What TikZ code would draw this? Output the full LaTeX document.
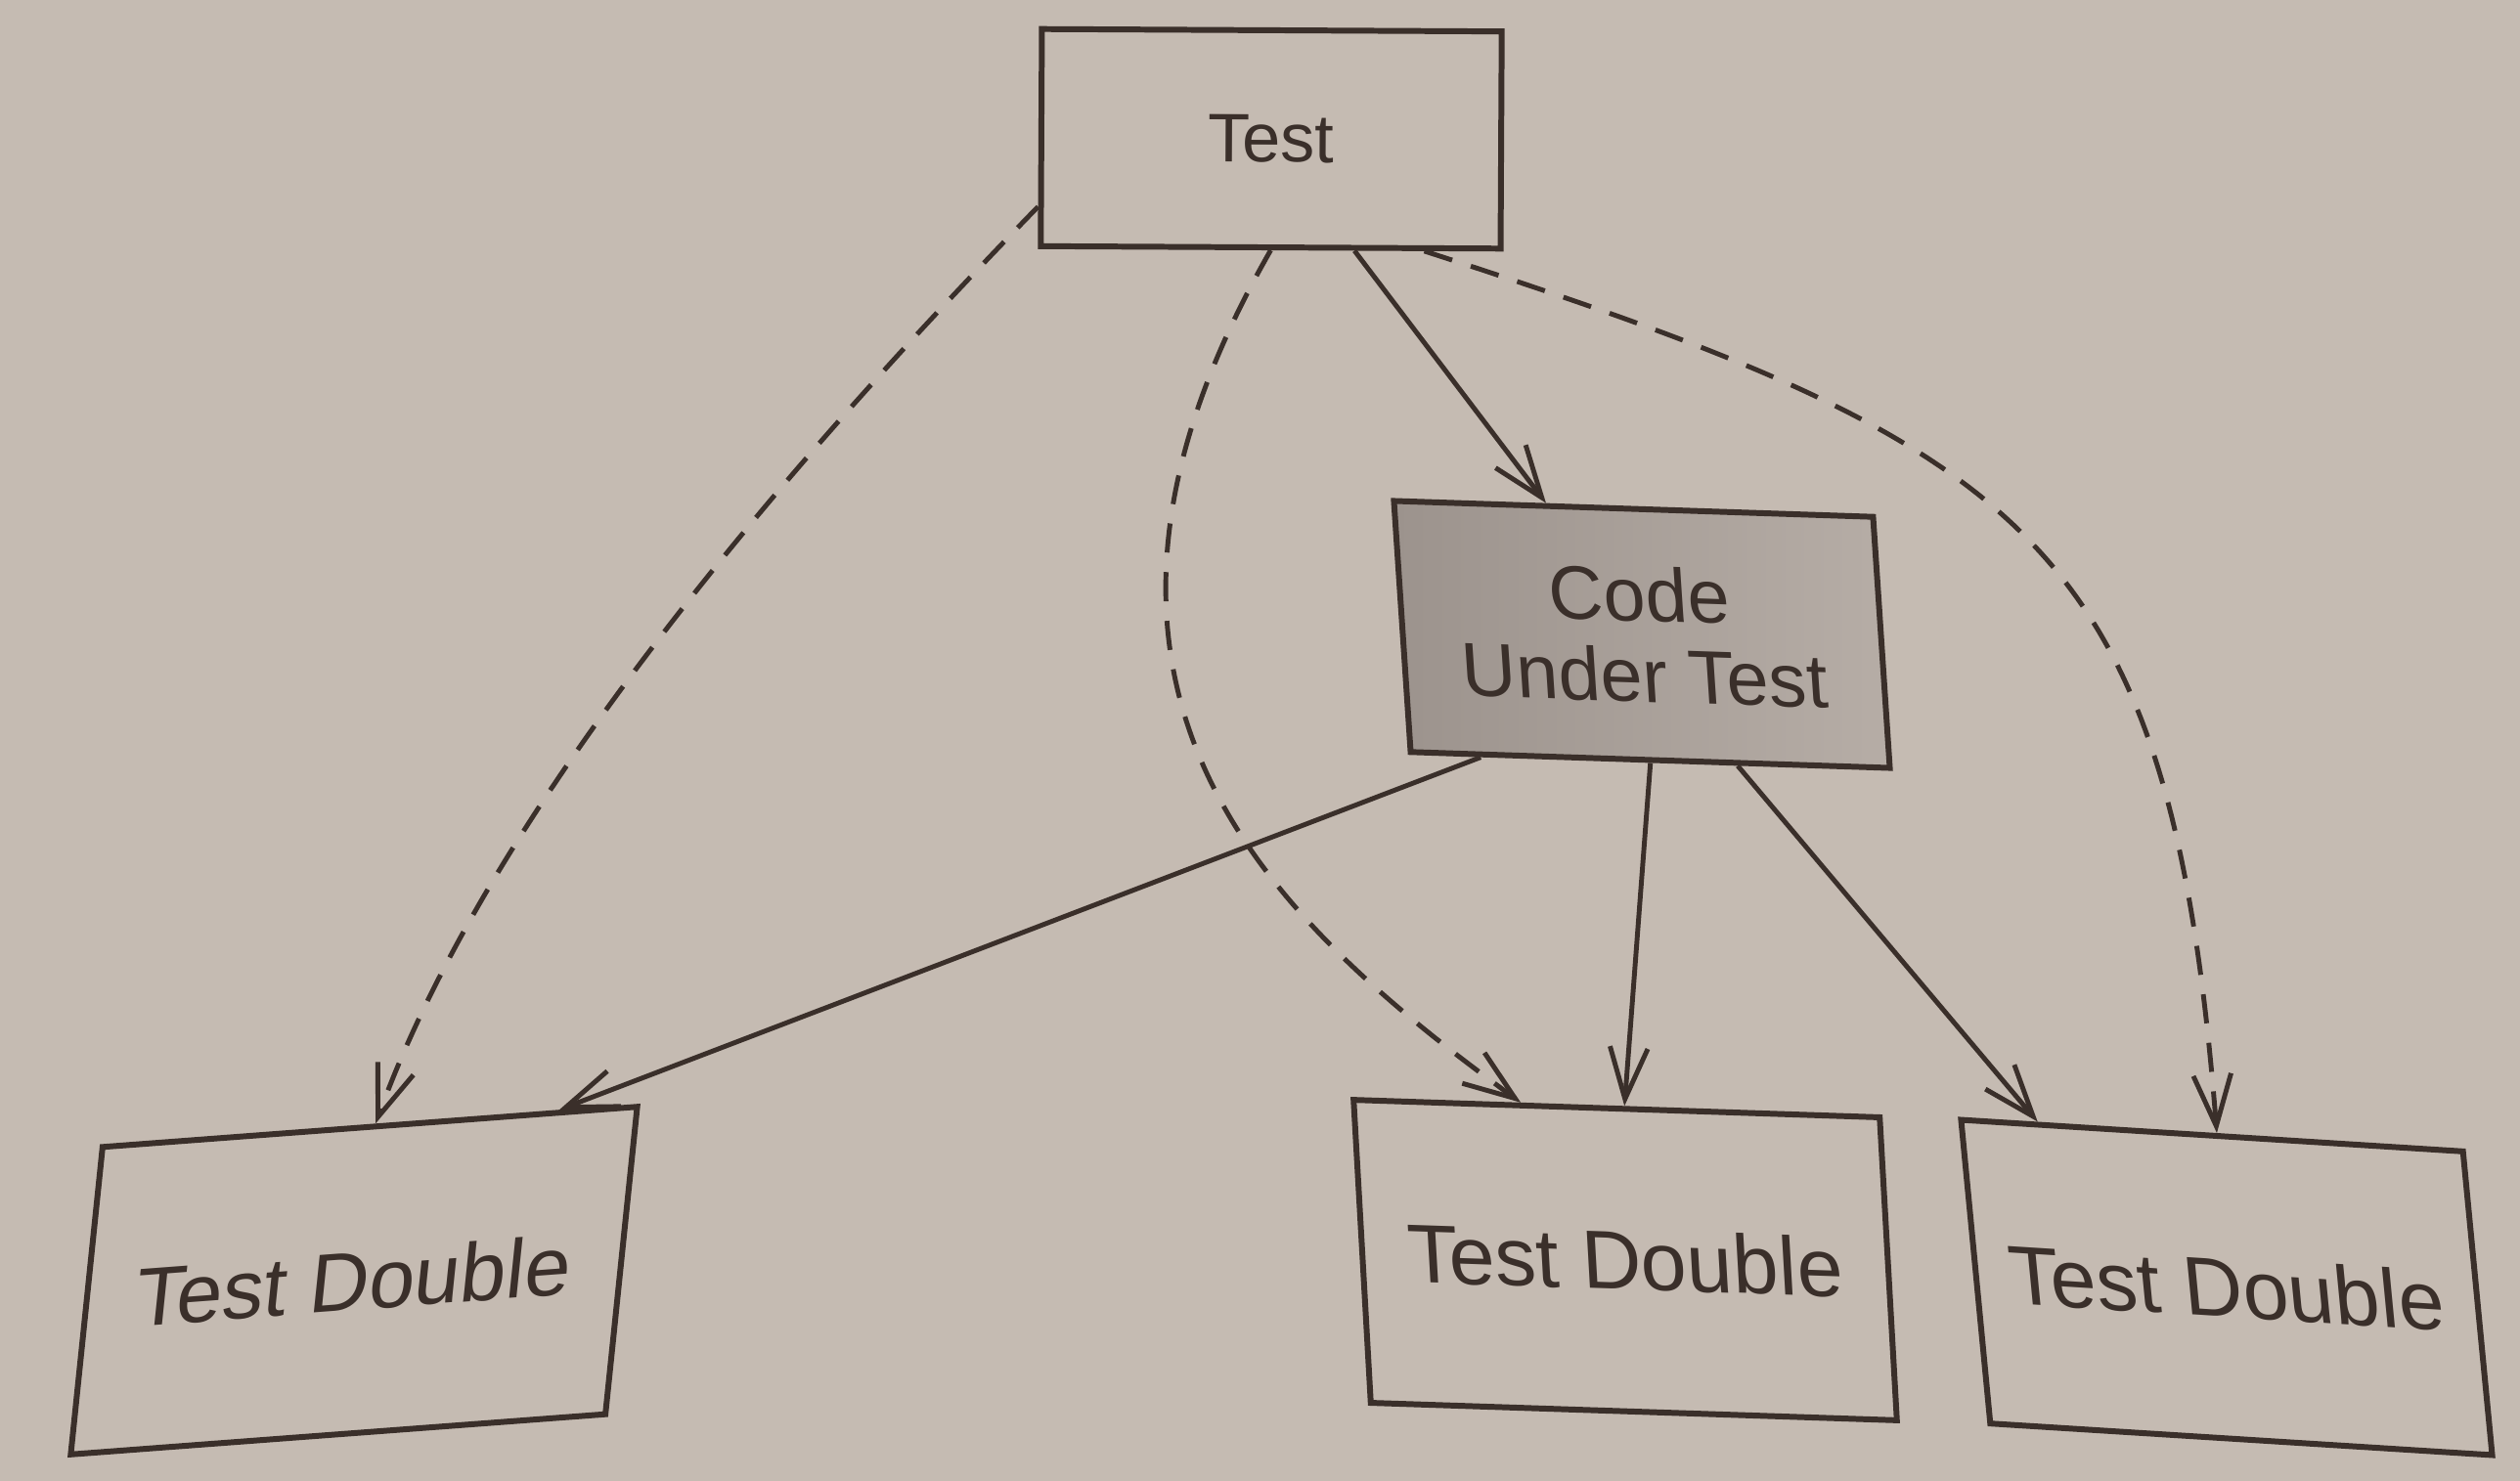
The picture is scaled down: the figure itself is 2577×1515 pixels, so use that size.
\documentclass[tikz,border=0pt]{standalone}
\usepackage{fontspec}
\setmainfont{Liberation Sans}
\usetikzlibrary{arrows.meta,calc}
\definecolor{paper}{HTML}{C5BBB2}
\definecolor{ink}{HTML}{3A2F2A}
\definecolor{cutdark}{HTML}{9C938D}
\definecolor{cutlight}{HTML}{B6ADA6}
\tikzset{
  boxnode/.style={draw=ink, line width=1.7pt, inner sep=0pt, text=ink},
  solidarrow/.style={draw=ink, line width=1.4pt, -{Straight Barb[length=15pt,width=11pt]}},
  dasharrow/.style={solidarrow, dash pattern=on 8.5pt off 5.7pt},
}
\begin{document}
\begin{tikzpicture}[x=0.01cm, y=-0.01cm]
\useasboundingbox (0,0) rectangle (2577,1515);
\fill[paper] (0,0) rectangle (2577,1515);

% boxes
\node[boxnode, minimum width=4.70cm, minimum height=2.22cm, rotate=-0.3,
      font=\fontsize{20}{22}\selectfont] (test) at (1300,142) {Test};
\node[boxnode, minimum width=4.90cm, minimum height=2.56cm, rotate=-1.9, xslant=-0.1,
      left color=cutdark, right color=cutlight, align=center,
      font=\fontsize{22}{23.5}\selectfont] (cut) at (1679,649) {Code\\Under Test};
\node[boxnode, minimum width=5.48cm, minimum height=3.11cm, rotate=4.3, xslant=0.18,
      font=\fontsize{24}{26}\selectfont] (ltd) at (362,1310) {Test Double};
\node[boxnode, minimum width=5.38cm, minimum height=3.09cm, rotate=-1.9, xslant=-0.09,
      font=\fontsize{24}{26}\selectfont] (mtd) at (1662,1289) {Test Double};
\node[boxnode, minimum width=5.14cm, minimum height=3.08cm, rotate=-3.6, xslant=-0.16,
      font=\fontsize{24}{26}\selectfont] (rtd) at (2277,1317) {Test Double};

% solid connectors
\draw[solidarrow] ($(test.south west)!0.68!(test.south east)$) -- ($(cut.north west)!0.32!(cut.north east)$);
\draw[solidarrow] ($(cut.south west)!0.15!(cut.south east)$) -- ($(ltd.north west)!0.85!(ltd.north east)$);
\draw[solidarrow] ($(cut.south west)!0.5!(cut.south east)$) -- ($(mtd.north west)!0.515!(mtd.north east)$);
\draw[solidarrow] ($(cut.south west)!0.68!(cut.south east)$) -- ($(rtd.north west)!0.157!(rtd.north east)$);

% dashed connectors
\draw[dasharrow] ($(test.south west)!0.19!(test.north west)$) .. controls (800,480) and (500,830) .. ($(ltd.north west)!0.51!(ltd.north east)$);
\draw[dasharrow] ($(test.south west)!0.5!(test.south east)$) .. controls (1045,700) and (1290,935) .. ($(mtd.north west)!0.32!(mtd.north east)$);
\draw[dasharrow] ($(test.south west)!0.83!(test.south east)$) .. controls (2077,457) and (2219,552) .. ($(rtd.north west)!0.51!(rtd.north east)$);
\end{tikzpicture}
\end{document}
